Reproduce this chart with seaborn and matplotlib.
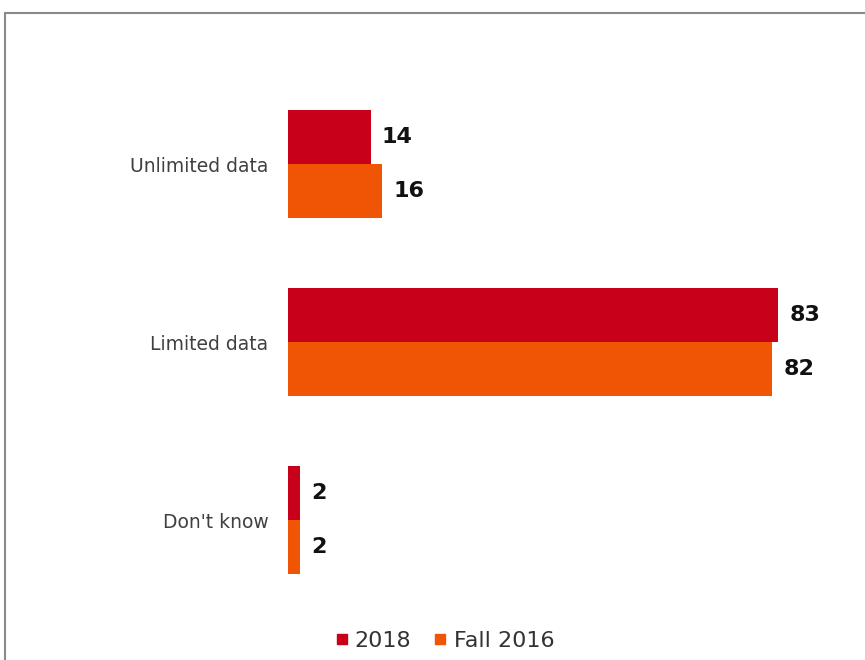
import matplotlib
matplotlib.use("Agg")
import matplotlib.pyplot as plt
from matplotlib.lines import Line2D
import seaborn as sns
import pandas as pd

# Data plan types and shares (%) by survey wave
categories = ["Unlimited data", "Limited data", "Don't know"]
series_names = ["2018", "Fall 2016"]
values_2018 = [14, 83, 2]
values_fall2016 = [16, 82, 2]
colors = ["#C80019", "#F05505"]

df = pd.DataFrame({
    "category": categories * 2,
    "series": [series_names[0]] * 3 + [series_names[1]] * 3,
    "value": values_2018 + values_fall2016,
})

sns.set_theme(style="white")
plt.rcParams["font.family"] = ["DejaVu Sans"]

fig = plt.figure(figsize=(8.65, 6.6), dpi=100)
ax = fig.add_axes([288 / 865, 1 - 600 / 660, 1 - 288 / 865, 560 / 660])

sns.barplot(data=df, y="category", x="value", hue="series", order=categories,
            hue_order=series_names, palette=colors, orient="h", width=0.607,
            linewidth=0, saturation=1, legend=False, ax=ax)

for cont in ax.containers:
    labels = ax.bar_label(cont, fmt="%d", padding=8, fontsize=16, fontweight="bold",
                          color="#111111")
    for t in labels:
        t.set_y(t.get_position()[1])
        t.set_va("center")

ax.set_xlim(0, 97.7)
ax.set_ylim(2.449, -0.697)
ax.set_xlabel("")
ax.set_ylabel("")
ax.set_xticks([])
ax.tick_params(axis="y", length=0, pad=14, labelsize=13.5, labelcolor="#404040")
for s in ax.spines.values():
    s.set_visible(False)

handles = [Line2D([], [], marker="s", linestyle="", markersize=7.5,
                  markerfacecolor=c, markeredgecolor=c) for c in colors]
fig.legend(handles, series_names, loc="center", bbox_to_anchor=(0.514, 1 - 641 / 660),
           ncol=2, frameon=False, fontsize=16, labelcolor="#333333",
           handlelength=0.6, handletextpad=0.3, columnspacing=1.0)

# Frame around the figure (top and left edges)
edge = "#8a8a8a"
fig.add_artist(Line2D([4.5 / 865, 4.5 / 865], [0, 1 - 13 / 660],
                      transform=fig.transFigure, color=edge, lw=1.5))
fig.add_artist(Line2D([4.5 / 865, 1], [1 - 13 / 660, 1 - 13 / 660],
                      transform=fig.transFigure, color=edge, lw=1.5))

fig.savefig("out.png", dpi=100)
